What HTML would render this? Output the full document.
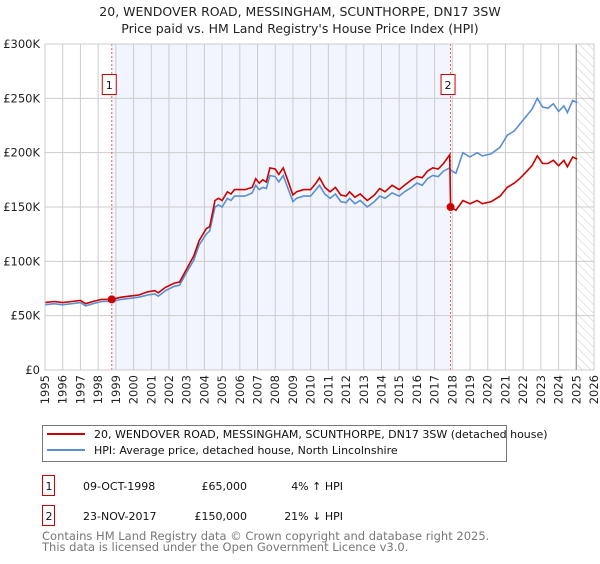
<!DOCTYPE html>
<html><head><meta charset="utf-8"><style>
body{margin:0;background:#fff;width:600px;height:560px;overflow:hidden;font-family:"DejaVu Sans","Liberation Sans",sans-serif}
svg text{font-family:"DejaVu Sans","Liberation Sans",sans-serif}
</style></head><body>
<svg id="chart" width="600" height="560" xmlns="http://www.w3.org/2000/svg">
<defs><pattern id="hatch" width="6" height="6" patternUnits="userSpaceOnUse" patternTransform="rotate(-45)"><line x1="0" y1="0" x2="0" y2="6" stroke="#ccc" stroke-width="1"/></pattern></defs>
<text x="300" y="16" text-anchor="middle" font-size="12.5" fill="#222">20, WENDOVER ROAD, MESSINGHAM, SCUNTHORPE, DN17 3SW</text>
<text x="300" y="33" text-anchor="middle" font-size="12.5" fill="#222">Price paid vs. HM Land Registry's House Price Index (HPI)</text>
<g id="plot"></g>
<g>
<rect x="42.5" y="425.5" width="464" height="36" fill="#fff" stroke="#777"/>
<line x1="47" y1="434" x2="85" y2="434" stroke="#cc0000" stroke-width="2"/>
<text x="94" y="438" font-size="11" fill="#111">20, WENDOVER ROAD, MESSINGHAM, SCUNTHORPE, DN17 3SW (detached house)</text>
<line x1="47" y1="450" x2="85" y2="450" stroke="#5b8fd0" stroke-width="2"/>
<text x="94" y="454" font-size="11" fill="#111">HPI: Average price, detached house, North Lincolnshire</text>
</g>
<g font-size="11" fill="#111">
<rect x="42.5" y="475.5" width="12" height="20" fill="none" stroke="#cc0000"/>
<text x="49" y="490" text-anchor="middle">1</text>
<text x="83" y="490">09-OCT-1998</text>
<text x="247" y="490" text-anchor="end">£65,000</text>
<text x="343" y="490" text-anchor="end">4% ↑ HPI</text>
<rect x="42.5" y="505.5" width="12" height="20" fill="none" stroke="#cc0000"/>
<text x="49" y="520" text-anchor="middle">2</text>
<text x="83" y="520">23-NOV-2017</text>
<text x="247" y="520" text-anchor="end">£150,000</text>
<text x="343" y="520" text-anchor="end">21% ↓ HPI</text>
</g>
<text x="42" y="540" font-size="11.5" fill="#777">Contains HM Land Registry data © Crown copyright and database right 2025.</text>
<text x="42" y="551" font-size="11.5" fill="#777">This data is licensed under the Open Government Licence v3.0.</text>
</svg>
<script>
const years=[1995.0,1995.5,1996.0,1996.5,1997.0,1997.3,1997.7,1998.2,1998.77,1999.3,1999.8,2000.3,2000.8,2001.2,2001.4,2001.8,2002.3,2002.6,2003.0,2003.4,2003.7,2004.1,2004.3,2004.6,2004.8,2005.0,2005.3,2005.5,2005.7,2006.3,2006.7,2006.9,2007.1,2007.3,2007.5,2007.7,2008.0,2008.2,2008.45,2008.7,2009.0,2009.2,2009.6,2010.0,2010.3,2010.5,2010.8,2011.1,2011.4,2011.7,2012.0,2012.2,2012.5,2012.8,2013.2,2013.6,2013.9,2014.2,2014.6,2015.0,2015.3,2015.7,2016.0,2016.3,2016.6,2016.9,2017.2,2017.5,2017.85,2017.9,2018.2,2018.6,2019.0,2019.4,2019.7,2020.2,2020.7,2021.1,2021.5,2021.8,2022.1,2022.5,2022.8,2023.1,2023.4,2023.7,2024.0,2024.3,2024.5,2024.8,2025.05];
const hpiValues=[60,61,60,61,62,59,61,63,63,65,66,67,69,70,68,73,77,78,90,101,115,125,128,150,152,150,158,156,160,160,163,170,166,168,167,179,178,173,179,168,155,158,160,160,166,170,162,158,162,155,154,158,153,156,150,155,160,158,163,160,164,168,172,170,176,179,178,183,186,184,181,200,196,200,197,199,205,216,220,226,232,240,250,242,241,245,238,243,237,248,246];
const priceValues=[62,63,62,63,64,61,63,65,65,67,68,69,72,73,71,76,80,81,93,105,119,130,132,156,158,156,164,162,166,166,168,176,172,175,173,186,185,180,186,175,161,164,166,166,172,177,168,164,168,161,160,164,159,162,156,161,167,164,170,166,170,175,178,177,183,186,185,190,198,150,147,156,153,156,153,155,160,168,172,176,181,188,197,190,190,193,188,193,187,196,194];
const saleYears=[1998.77,2017.9];
const salePrices=[65,150];
const yTicks=[0,50,100,150,200,250,300];
const yTickLabels=["£0","£50K","£100K","£150K","£200K","£250K","£300K"];
const xTicks=[1995,1996,1997,1998,1999,2000,2001,2002,2003,2004,2005,2006,2007,2008,2009,2010,2011,2012,2013,2014,2015,2016,2017,2018,2019,2020,2021,2022,2023,2024,2025,2026];

const L=45,R=594,T=44,B=370;
const x=v=>L+(v-1995)/(2026-1995)*(R-L);
const y=v=>B-v/300*(B-T);
const NS="http://www.w3.org/2000/svg";
const g=document.getElementById('plot');
function mk(tag,attrs,parent){const e=document.createElementNS(NS,tag);for(const k in attrs)e.setAttribute(k,attrs[k]);(parent||g).appendChild(e);return e;}

let band=mk('rect',{x:x(saleYears[0]),y:T,width:x(saleYears[1])-x(saleYears[0]),height:B-T,fill:'#f2f5fd'});


let hatch=mk('rect',{x:x(2025.0),y:T,width:R-x(2025.0),height:B-T,fill:'url(#hatch)'});



xTicks.forEach(t=>{
  const l=mk('line',{x1:x(t),x2:x(t),y1:T,y2:B,stroke:'#ccc','stroke-width':1});
  
  
  const tx=mk('text',{x:0,y:0,transform:`translate(${x(t)+4},${B+5}) rotate(-90)`,'text-anchor':'end','font-size':11.5,fill:'#222'});
  tx.textContent=t;
  
  
});
yTicks.forEach((t,i)=>{
  const l=mk('line',{x1:L,x2:R,y1:y(t),y2:y(t),stroke:'#ccc','stroke-width':1});
  
  
  const tx=mk('text',{x:L-5,y:y(t)+4,'text-anchor':'end','font-size':11.5,fill:'#222'});
  tx.textContent=yTickLabels[i];
  
  
});
let nowLine=mk('line',{x1:x(2025.0),x2:x(2025.0),y1:T,y2:B,stroke:'#999','stroke-width':1.2});



saleYears.forEach((s,i)=>{
  const l=mk('line',{x1:x(s),x2:x(s),y1:T,y2:B,stroke:'#e06060','stroke-width':1,'stroke-dasharray':'2,2'});
  
  
});

const pts=a=>years.map((yr,i)=>x(yr).toFixed(1)+','+y(a[i]).toFixed(1)).join(' ');
let hl=mk('polyline',{points:pts(hpiValues),fill:'none',stroke:'#5b8fd0','stroke-width':1.6});


let pl=mk('polyline',{points:pts(priceValues),fill:'none',stroke:'#cc0000','stroke-width':1.6});



saleYears.forEach((s,i)=>{
  const c=mk('circle',{cx:x(s),cy:y(salePrices[i]),r:4,fill:'#cc0000'});
  
  
  const bx=mk('rect',{x:x(s)-9.5,y:74.5,width:14,height:20,fill:'#fff',stroke:'#cc0000'});
  
  
  const t=mk('text',{x:x(s)-2.5,y:89,'text-anchor':'middle','font-size':11,fill:'#111'});
  t.textContent=String(i+1);
  
  
});
let frame=mk('rect',{x:L,y:T,width:R-L,height:B-T,fill:'none',stroke:'#ccc'});


</script>
</body></html>
